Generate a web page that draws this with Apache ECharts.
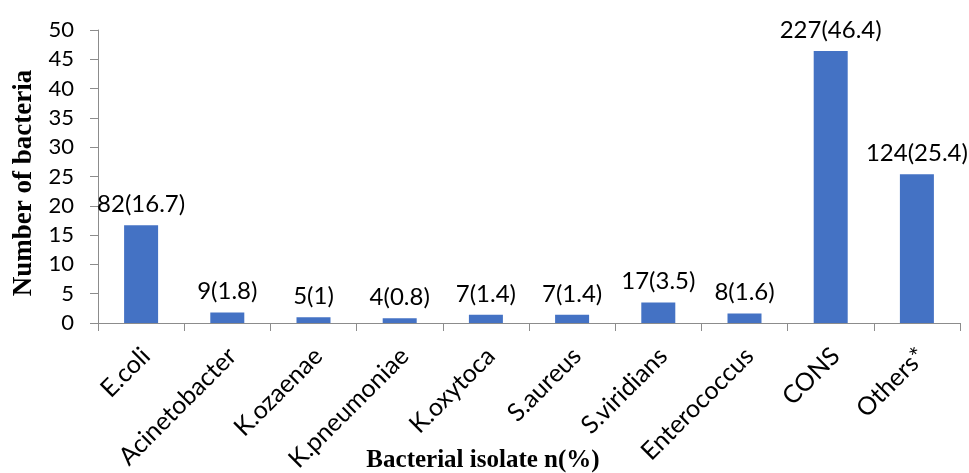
<!DOCTYPE html>
<html><head><meta charset="utf-8">
<script src="https://cdn.jsdelivr.net/npm/echarts@6/dist/echarts.min.js"></script>
<style>html,body{margin:0;padding:0;background:#fff}#c{width:969px;height:473px}</style>
</head><body><div id="c"></div>
<script>
const categories = ['E.coli','Acinetobacter','K.ozaenae','K.pneumoniae','K.oxytoca','S.aureus','S.viridians','Enterococcus','CONS','Others*'];
const counts = [82,9,5,4,7,7,17,8,227,124];
const percents = [16.7,1.8,1,0.8,1.4,1.4,3.5,1.6,46.4,25.4];
const yTicks = [0,5,10,15,20,25,30,35,40,45,50];

const chart = echarts.init(document.getElementById('c'));
chart.setOption({
  animation:false,
  grid:{left:98,right:9,top:30,bottom:150,containLabel:false,outerBoundsMode:'none'},
  xAxis:{type:'category',data:categories,
    axisLine:{lineStyle:{color:'#8c8c8c',width:1}},
    axisTick:{show:true,length:8,lineStyle:{color:'#8c8c8c'}},
    axisLabel:{rotate:45,fontSize:25,fontFamily:'Lato',color:'#000',margin:24,interval:0,
      align:'right',verticalAlign:'top',lineHeight:14}
  },
  yAxis:{type:'value',min:0,max:50,interval:5,
    axisLine:{show:true,lineStyle:{color:'#8c8c8c'}},
    axisTick:{show:true,length:8,inside:false,lineStyle:{color:'#8c8c8c'}},
    splitLine:{show:false},
    axisLabel:{fontSize:22,fontFamily:'Lato',color:'#000',margin:24,
      formatter:v=>yTicks.includes(v)?String(v):''}
  },
  graphic:[
    {type:'text',x:483,y:461,style:{text:'Bacterial isolate n(%)',font:'bold 25px "Liberation Serif"',fill:'#000',textAlign:'center',textVerticalAlign:'middle'}},
    {type:'text',x:24,y:183,rotation:Math.PI/2,style:{text:'Number of bacteria',font:'bold 27px "Liberation Serif"',fill:'#000',textAlign:'center',textVerticalAlign:'middle'}}
  ],
  series:[{type:'bar',data:percents,barWidth:34,
    itemStyle:{color:'#4472C4'},
    label:{show:true,position:'top',distance:9,fontSize:24,fontFamily:'Lato',color:'#000',
      formatter:p=>counts[p.dataIndex]+'('+percents[p.dataIndex]+')'}
  }]
});
</script></body></html>
